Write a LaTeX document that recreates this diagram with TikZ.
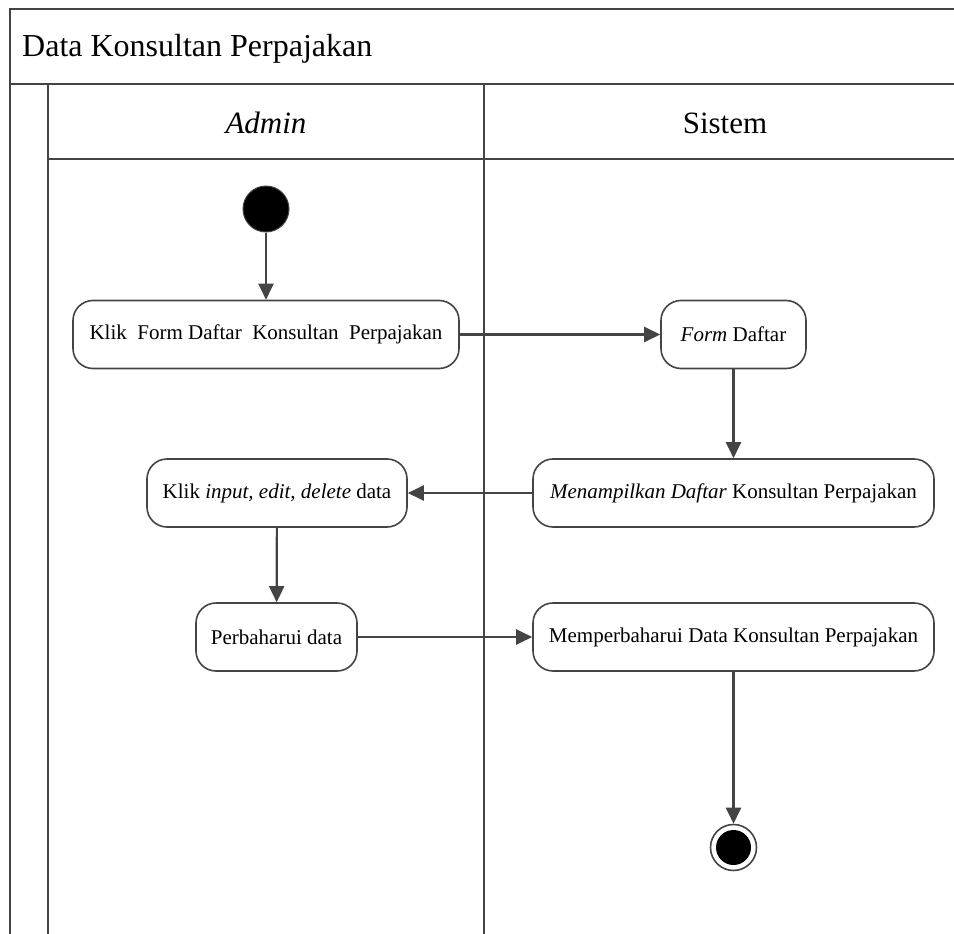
\documentclass[tikz,border=0pt]{standalone}
\usepackage{fontspec}
\setmainfont{Liberation Serif}
\usetikzlibrary{arrows.meta}
\definecolor{ln}{HTML}{444444}
\begin{document}
\begin{tikzpicture}[x=1pt,y=-1pt,
  act/.style={draw=ln,line width=1.6pt,rounded corners=20pt,fill=white,
    minimum height=68pt,inner sep=0pt,font=\fontsize{21}{25}\selectfont},
  flow/.style={draw=ln,line width=2.2pt,-{Triangle[length=16pt,width=15pt]}},
  lane/.style={draw=ln,line width=2pt},
  lanetext/.style={inner sep=0pt,anchor=base,font=\fontsize{31}{37}\selectfont}]
\useasboundingbox (0,0) rectangle (954,934);
\fill[white] (0,0) rectangle (954,934);
\clip (0,0) rectangle (954,934);

% swimlane frame
\draw[lane] (10,960) -- (10,9) -- (980,9);
\draw[lane] (10,84) -- (980,84);
\draw[lane] (48,960) -- (48,84);
\draw[lane] (48,159) -- (980,159);
\draw[lane] (484,84) -- (484,960);

% titles
\node[inner sep=0pt,anchor=base west,font=\fontsize{32}{38}\selectfont] (title) at (22,57) {Data Konsultan Perpajakan};
\node[lanetext] (admin) at (266,133) {\itshape Admin};
\node[lanetext] (sistem) at (725,133) {Sistem};

% start and end
\node[circle,fill=black,draw=ln,line width=1pt,minimum size=46pt,inner sep=0pt] (start) at (266,209) {};
\node[circle,draw=ln,line width=1.6pt,minimum size=46pt,inner sep=0pt] (end) at (733.5,847.5) {};
\fill[black] (end.center) circle (17.5pt);

% activities
\node[act,minimum width=386pt] (klikform) at (266,334.5) {Klik\ \ Form Daftar\ \ Konsultan\ \ Perpajakan};
\node[act,minimum width=145pt] (form) at (733.5,334.5) {\textit{Form} Daftar};
\node[act,minimum width=401pt] (tampil) at (733.5,493) {\textit{Menampilkan Daftar} Konsultan Perpajakan};
\node[act,minimum width=260pt] (klikinput) at (277,493) {Klik \textit{input, edit, delete} data};
\node[act,minimum width=161pt] (perbarui) at (276.5,637) {Perbaharui data};
\node[act,minimum width=401pt] (simpan) at (733.5,637) {Memperbaharui Data Konsultan Perpajakan};

% flows
\draw[flow] (start) -- (klikform);
\draw[flow] (klikform) -- (form);
\draw[flow] (form) -- (tampil);
\draw[flow] (tampil) -- (klikinput);
\draw[flow] (klikinput) -- (perbarui);
\draw[flow] (perbarui) -- (simpan);
\draw[flow] (simpan) -- (end);
\end{tikzpicture}
\end{document}
